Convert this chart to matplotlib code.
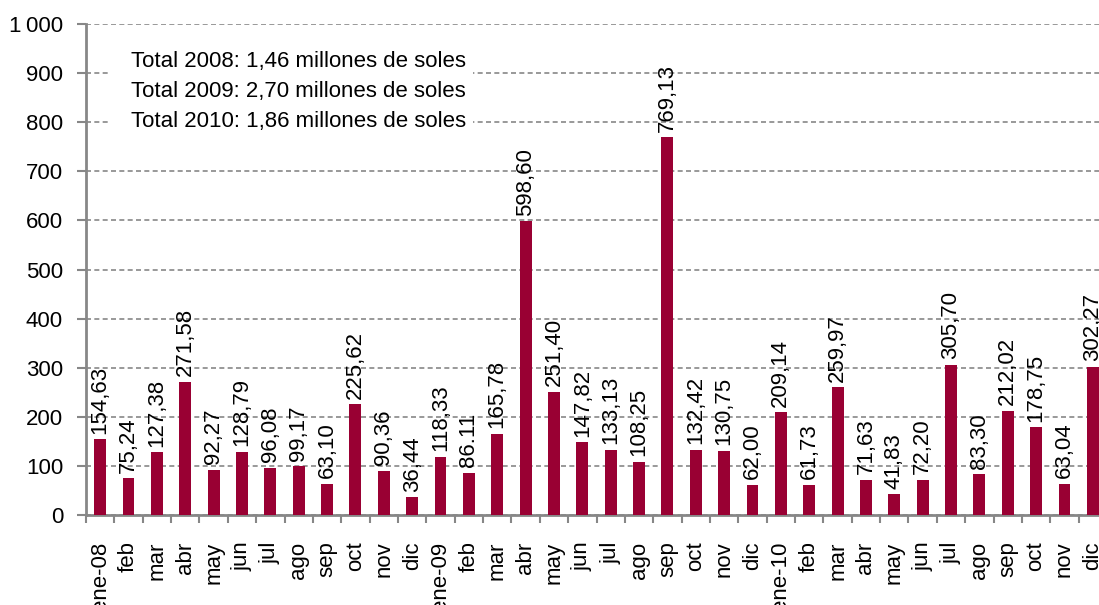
import matplotlib
matplotlib.use("Agg")
import matplotlib.pyplot as plt
from matplotlib.patches import Rectangle

plt.rcParams['font.family'] = ['Liberation Sans', 'DejaVu Sans']

months = ["ene-08", "feb", "mar", "abr", "may", "jun", "jul", "ago", "sep", "oct", "nov", "dic",
          "ene-09", "feb", "mar", "abr", "may", "jun", "jul", "ago", "sep", "oct", "nov", "dic",
          "ene-10", "feb", "mar", "abr", "may", "jun", "jul", "ago", "sep", "oct", "nov", "dic"]
values = [154.63, 75.24, 127.38, 271.58, 92.27, 128.79, 96.08, 99.17, 63.10, 225.62, 90.36, 36.44,
          118.33, 86.11, 165.78, 598.60, 251.40, 147.82, 133.13, 108.25, 769.13, 132.42, 130.75, 62.00,
          209.14, 61.73, 259.97, 71.63, 41.83, 72.20, 305.70, 83.30, 212.02, 178.75, 63.04, 302.27]
value_labels = ["154,63", "75,24", "127,38", "271,58", "92,27", "128,79", "96,08", "99,17", "63,10",
                "225,62", "90,36", "36,44", "118,33", "86.11", "165,78", "598,60", "251,40", "147,82",
                "133,13", "108,25", "769,13", "132,42", "130,75", "62,00", "209,14", "61,73", "259,97",
                "71,63", "41,83", "72,20", "305,70", "83,30", "212,02", "178,75", "63,04", "302,27"]
notes = ["Total 2008: 1,46 millones de soles",
         "Total 2009: 2,70 millones de soles",
         "Total 2010: 1,86 millones de soles"]
yticks = [0, 100, 200, 300, 400, 500, 600, 700, 800, 900, 1000]
ytick_labels = ["0", "100", "200", "300", "400", "500", "600", "700", "800", "900", "1\u2009000"]

bar_color = "#990033"
gray = "#878787"
FS = 16

fig = plt.figure(figsize=(10.99, 6.05), dpi=100)
ax = fig.add_axes([86/1099, 90/605, 1021/1099, 491/605])

x = list(range(len(values)))
ax.bar(x, values, width=0.42, color=bar_color, zorder=3)

for xi, v, lab in zip(x, values, value_labels):
    ax.annotate(lab, (xi, v), xytext=(0, 4), textcoords="offset points",
                rotation=90, ha="center", va="bottom", fontsize=FS, color="black",
                zorder=4, annotation_clip=False)

ax.set_xlim(-0.5, len(values) - 0.5)
ax.set_ylim(0, 1000)
ax.set_yticks(yticks)
ax.set_yticklabels(ytick_labels, fontsize=FS)
ax.set_xticks(x)
ax.set_xticklabels(months, rotation=90, fontsize=FS, va="top")
ax.tick_params(axis="x", length=0, pad=19)
ax.set_xticks([i - 0.5 for i in range(len(values) + 1)], minor=True)
ax.tick_params(axis="x", which="minor", length=6, color=gray, width=1.5, direction="out")
ax.tick_params(axis="y", length=6.5, color=gray, width=1.5, direction="out", pad=10)

ax.yaxis.grid(True, linestyle=(0, (3, 2)), color=gray, linewidth=1.2, zorder=0)
for s in ["top", "right"]:
    ax.spines[s].set_visible(False)
for s in ["left", "bottom"]:
    ax.spines[s].set_color(gray)
    ax.spines[s].set_linewidth(2)

# white box behind notes
box = Rectangle((110/1099, (605-140)/605), 363/1099, 100/605, transform=fig.transFigure,
                facecolor="white", edgecolor="none", zorder=5)
fig.patches.append(box)
for i, n in enumerate(notes):
    fig.text(131/1099, 1 - (67 + 30*i)/605, n, fontsize=FS, va="baseline", ha="left", zorder=6)

fig.savefig("out.png", dpi=100)
